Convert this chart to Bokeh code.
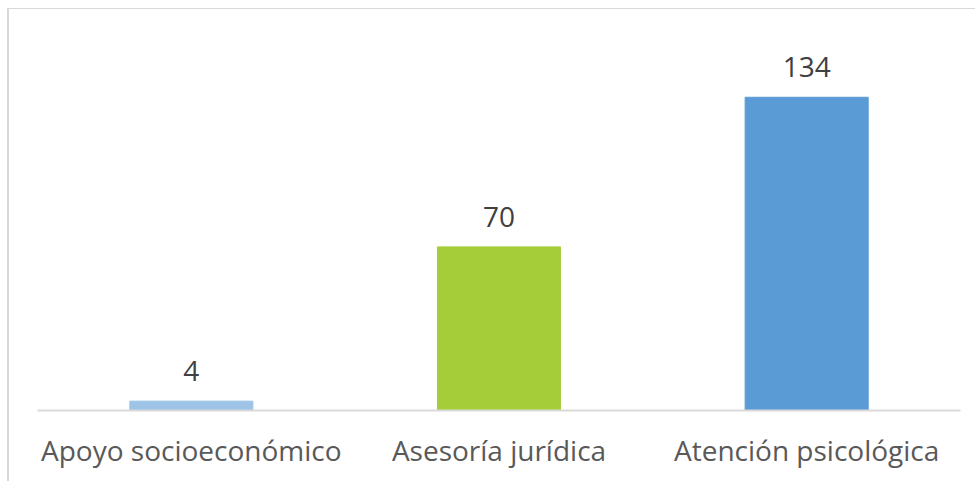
from bokeh.plotting import figure
from bokeh.models import ColumnDataSource, LabelSet, Range1d
from bokeh.core.properties import value
from bokeh.embed import file_html
from bokeh.resources import INLINE

categories = ["Apoyo socioeconómico", "Asesoría jurídica", "Atención psicológica"]
values = [4, 70, 134]
colors = ["#9DC3E6", "#A5CD39", "#5B9BD5"]
labels = [str(v) for v in values]

src = ColumnDataSource(dict(cat=categories, val=values, color=colors, lab=labels))

p = figure(x_range=categories, y_range=Range1d(0, 160), width=968, height=473,
           output_backend="svg", toolbar_location=None,
           min_border_left=28, min_border_right=17, min_border_top=27, min_border_bottom=72)
p.stylesheets = [":host { margin-top: 8px !important; margin-left: 7px !important; "
                 "border-top: 1px solid #d9d9d9 !important; "
                 "border-left: 2px solid #d9d9d9 !important; }"]
p.outline_line_color = None
p.vbar(x="cat", top="val", width=0.4, color="color", source=src)
p.add_layout(LabelSet(x="cat", y="val", text="lab", source=src, y_offset=20,
                      text_align="center", text_baseline="alphabetic",
                      text_font=value("Open Sans"), text_font_size="28px",
                      text_color="#404040"))
p.yaxis.visible = False
p.xgrid.grid_line_color = None
p.ygrid.grid_line_color = None
p.x_range.range_padding = 0
p.xaxis.axis_line_color = "#d9d9d9"
p.xaxis.axis_line_width = 2
p.xaxis.major_tick_line_color = None
p.xaxis.minor_tick_line_color = None
p.xaxis.major_label_text_font = "Open Sans"
p.xaxis.major_label_text_font_size = "28px"
p.xaxis.major_label_text_color = "#595959"
p.xaxis.major_label_standoff = 14

open("out.html", "w").write(file_html(p, INLINE))
